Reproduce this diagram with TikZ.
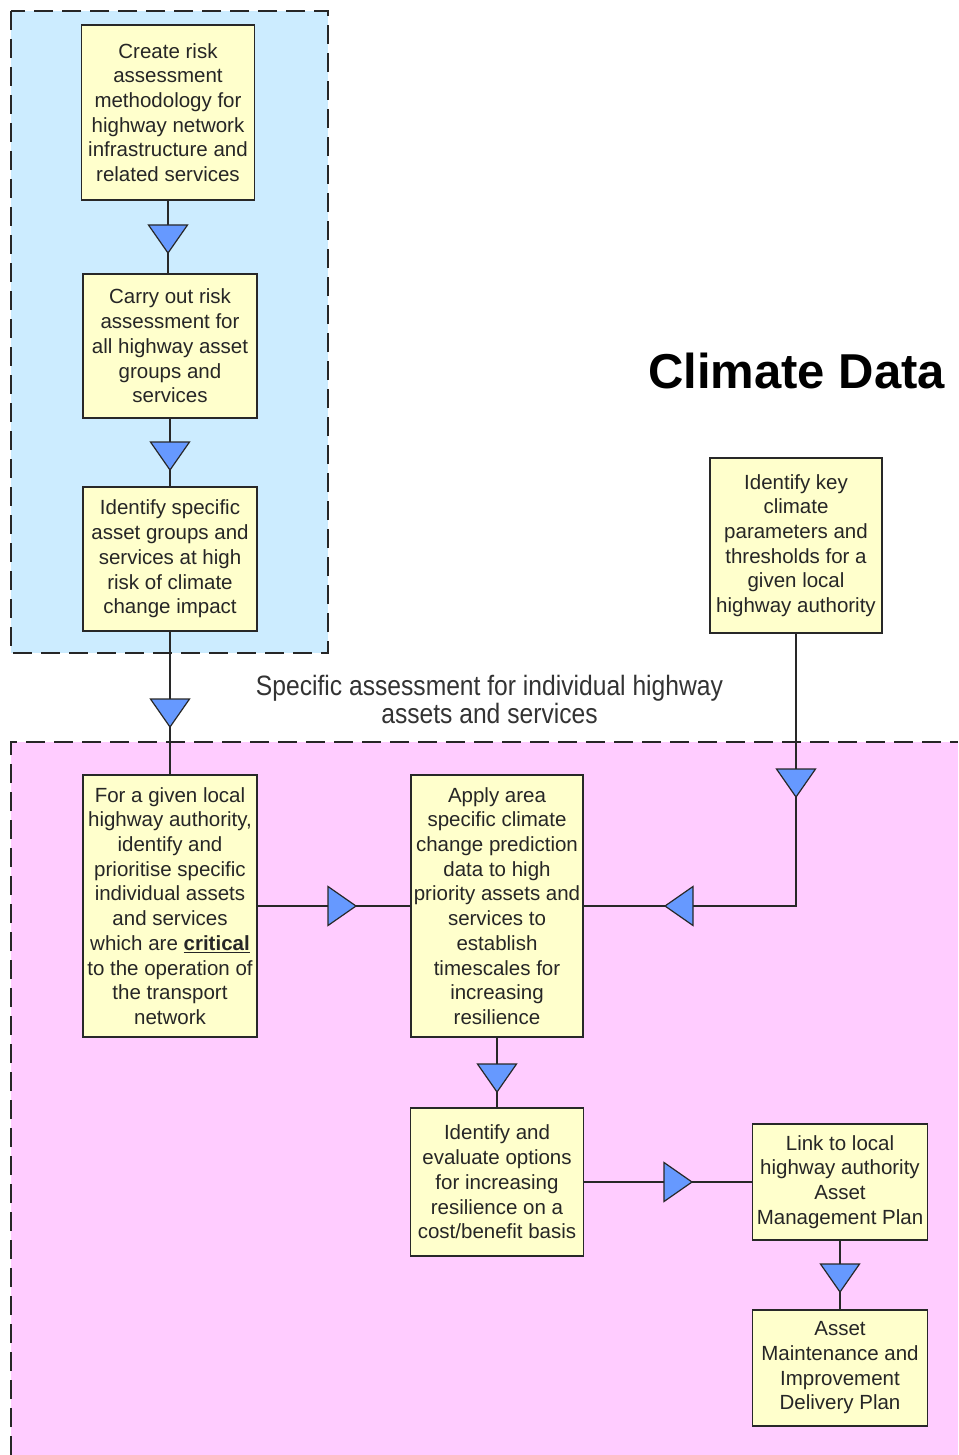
\documentclass[tikz,border=0pt]{standalone}
\usepackage{fontspec}
\setmainfont{Liberation Sans}
\newfontfamily\narrowfont[FakeStretch=0.88]{Liberation Sans}
\definecolor{bluebg}{RGB}{204,236,255}
\definecolor{pinkbg}{RGB}{255,204,255}
\definecolor{boxfill}{RGB}{255,255,204}
\definecolor{triblue}{RGB}{102,153,255}
\definecolor{edge}{RGB}{40,40,40}
\newcommand\tdown[2]{\filldraw[tri] (#1-19.5,#2-28) -- (#1+19.5,#2-28) -- (#1,#2) -- cycle;}
\newcommand\tright[2]{\filldraw[tri] (#1-28,#2-19.5) -- (#1-28,#2+19.5) -- (#1,#2) -- cycle;}
\newcommand\tleft[2]{\filldraw[tri] (#1+28,#2-19.5) -- (#1+28,#2+19.5) -- (#1,#2) -- cycle;}
\begin{document}
\begin{tikzpicture}[x=1pt,y=-1pt,
  stepbox/.style={draw=edge, line width=1.6pt, fill=boxfill, rectangle, inner sep=1pt,
    align=center, font=\fontsize{20.5}{24.7}\selectfont, text=black!85},
  conn/.style={draw=edge, line width=1.5pt},
  tri/.style={fill=triblue, draw=edge, line width=1.2pt, line join=miter},
  dashedge/.style={draw=black!85, line width=2pt, dash pattern=on 19pt off 9pt}]
\useasboundingbox (0,0) rectangle (958,1455);
\fill[white] (0,0) rectangle (958,1455);
% regions
\filldraw[fill=bluebg, dashedge] (11,11) rectangle (328,653);
\fill[pinkbg] (11,742) rectangle (958,1455);
\draw[dashedge] (11,1455) -- (11,742) -- (958,742);
% title and label
\node[font=\bfseries\fontsize{49}{55}\selectfont, text=black] (title) at (796.5,371) {Climate Data};
\node[font=\narrowfont\fontsize{28}{28}\selectfont, text=black!80, align=center] (label) at (489.5,699)
  {Specific assessment for individual highway\\assets and services};
% boxes
\node[stepbox, minimum width=173pt, minimum height=175pt] (b1) at (168,112.5)
  {Create risk\\assessment\\methodology for\\highway network\\infrastructure and\\related services};
\node[stepbox, minimum width=174pt, minimum height=144pt] (b2) at (170,346)
  {Carry out risk\\assessment for\\all highway asset\\groups and\\services};
\node[stepbox, minimum width=174pt, minimum height=144pt] (b3) at (170,559)
  {Identify specific\\asset groups and\\services at high\\risk of climate\\change impact};
\node[stepbox, minimum width=172pt, minimum height=175pt] (b4) at (796,545.5)
  {Identify key\\climate\\parameters and\\thresholds for a\\given local\\highway authority};
\node[stepbox, minimum width=174pt, minimum height=262pt] (b5) at (170,906)
  {For a given local\\highway authority,\\identify and\\prioritise specific\\individual assets\\and services\\which are \underline{\textbf{critical}}\\to the operation of\\the transport\\network};
\node[stepbox, minimum width=172pt, minimum height=262pt] (b6) at (497,906)
  {Apply area\\specific climate\\change prediction\\data to high\\priority assets and\\services to\\establish\\timescales for\\increasing\\resilience};
\node[stepbox, minimum width=173pt, minimum height=148pt] (b7) at (497,1182)
  {Identify and\\evaluate options\\for increasing\\resilience on a\\cost/benefit basis};
\node[stepbox, minimum width=175pt, minimum height=116pt] (b8) at (840,1182)
  {Link to local\\highway authority\\Asset\\Management Plan};
\node[stepbox, minimum width=175pt, minimum height=116pt] (b9) at (840,1368)
  {Asset\\Maintenance and\\Improvement\\Delivery Plan};
% connectors
\draw[conn] (b1.south) -- (b1.south |- b2.north);
\draw[conn] (b2.south) -- (b3.north);
\draw[conn] (b3.south) -- (b5.north);
\draw[conn] (b4.south) |- (b6.east);
\draw[conn] (b5.east) -- (b6.west);
\draw[conn] (b6.south) -- (b7.north);
\draw[conn] (b7.east) -- (b8.west);
\draw[conn] (b8.south) -- (b9.north);
% arrowheads
\tdown{168}{253}
\tdown{170}{470}
\tdown{170}{727}
\tdown{796}{797}
\tleft{665}{906}
\tright{356}{906}
\tdown{497}{1092}
\tright{692}{1182}
\tdown{840}{1292}
\end{tikzpicture}
\end{document}
